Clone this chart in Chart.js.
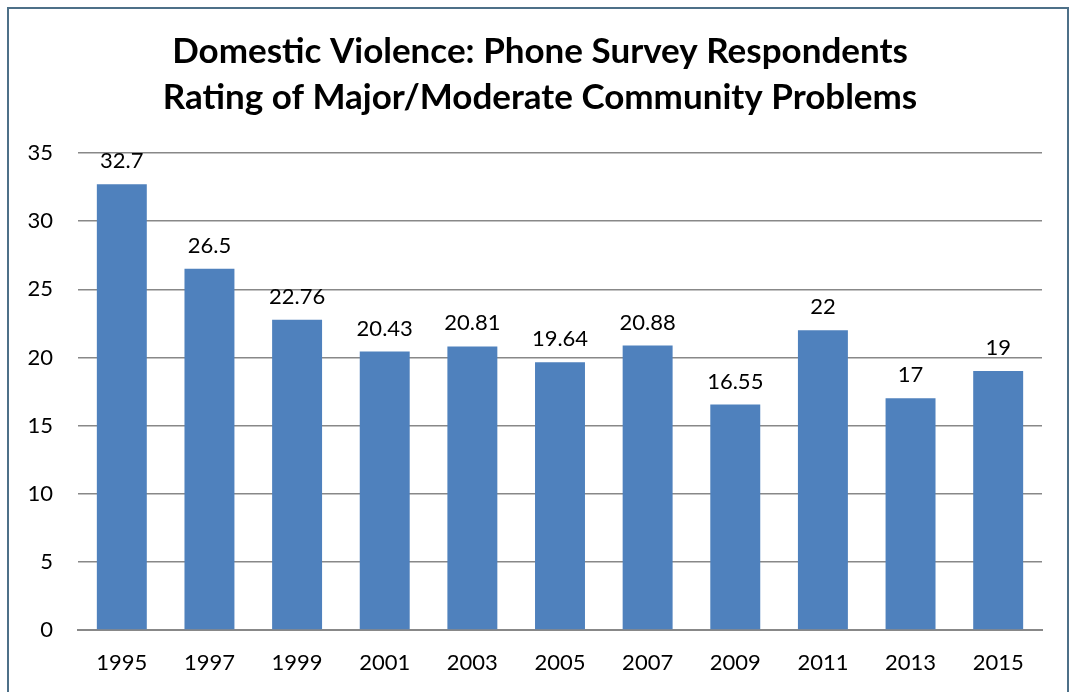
<!DOCTYPE html>
<html>
<head>
<meta charset="utf-8">
<script src="https://cdn.jsdelivr.net/npm/chart.js@4.4.0/dist/chart.umd.min.js"></script>
<style>
  html, body { margin: 0; padding: 0; background: #fff; }
  #wrap { width: 1073px; height: 692px; }
</style>
</head>
<body>
<div id="wrap"><canvas id="myCanvas" width="1073" height="692"></canvas></div>
<script>
var years = ['1995', '1997', '1999', '2001', '2003', '2005', '2007', '2009', '2011', '2013', '2015'];
var rates = [32.7, 26.5, 22.76, 20.43, 20.81, 19.64, 20.88, 16.55, 22, 17, 19];
var titleLines = ['Domestic Violence: Phone Survey Respondents', 'Rating of Major/Moderate Community Problems'];

var fontName = 'Lato, "Open Sans", sans-serif';

// frame around the whole chart + the two-line heading, centred on the page
var framePlugin = {
    id: 'frame',
    beforeDraw: function(chart){
        var c = chart.ctx;
        c.save();
        c.fillStyle = '#fff';
        c.fillRect(0, 0, chart.width, chart.height);
        c.strokeStyle = '#4d7088';
        c.lineWidth = 2;
        c.strokeRect(8, 8, 1060, 720);
        c.font = 'bold 35px ' + fontName;
        c.fillStyle = '#000';
        c.textAlign = 'center';
        c.textBaseline = 'middle';
        titleLines.forEach(function(line, i){
            c.fillText(line, 540, 52 + i * 46);
        });
        c.restore();
    }
};

// value printed above each bar
var valuePlugin = {
    id: 'values',
    afterDatasetsDraw: function(chart){
        var c = chart.ctx;
        var meta = chart.getDatasetMeta(0);
        c.save();
        c.font = '22px ' + fontName;
        c.fillStyle = '#000';
        c.textAlign = 'center';
        c.textBaseline = 'middle';
        meta.data.forEach(function(bar, i){
            c.fillText(String(rates[i]), bar.x, bar.y - 23);
        });
        c.restore();
    }
};

var ctx = document.getElementById('myCanvas').getContext('2d');
var myBarChart = new Chart(ctx, {
    type: 'bar',
    data: {
        labels: years,
        datasets: [{
            data: rates,
            backgroundColor: '#4f81bd',
            barPercentage: 0.57,
            categoryPercentage: 1
        }]
    },
    options: {
        responsive: false,
        animation: false,
        layout: { padding: { left: 0, right: 31, top: 153, bottom: 0 } },
        plugins: {
            legend: { display: false },
            tooltip: { enabled: false },
            title: { display: false }
        },
        scales: {
            x: {
                grid: { display: false, drawTicks: false },
                border: { color: '#888', width: 2 },
                ticks: { color: '#000', padding: 20, font: { family: fontName, size: 22 } },
                afterFit: function(scale){ scale.height = 62; }
            },
            y: {
                min: 0,
                max: 35,
                ticks: { stepSize: 5, color: '#000', padding: 25, font: { family: fontName, size: 22 } },
                grid: { color: '#888', lineWidth: 1.5, drawTicks: false },
                border: { display: false },
                afterFit: function(scale){ scale.width = 78; }
            }
        }
    },
    plugins: [framePlugin, valuePlugin]
});
</script>
</body>
</html>
